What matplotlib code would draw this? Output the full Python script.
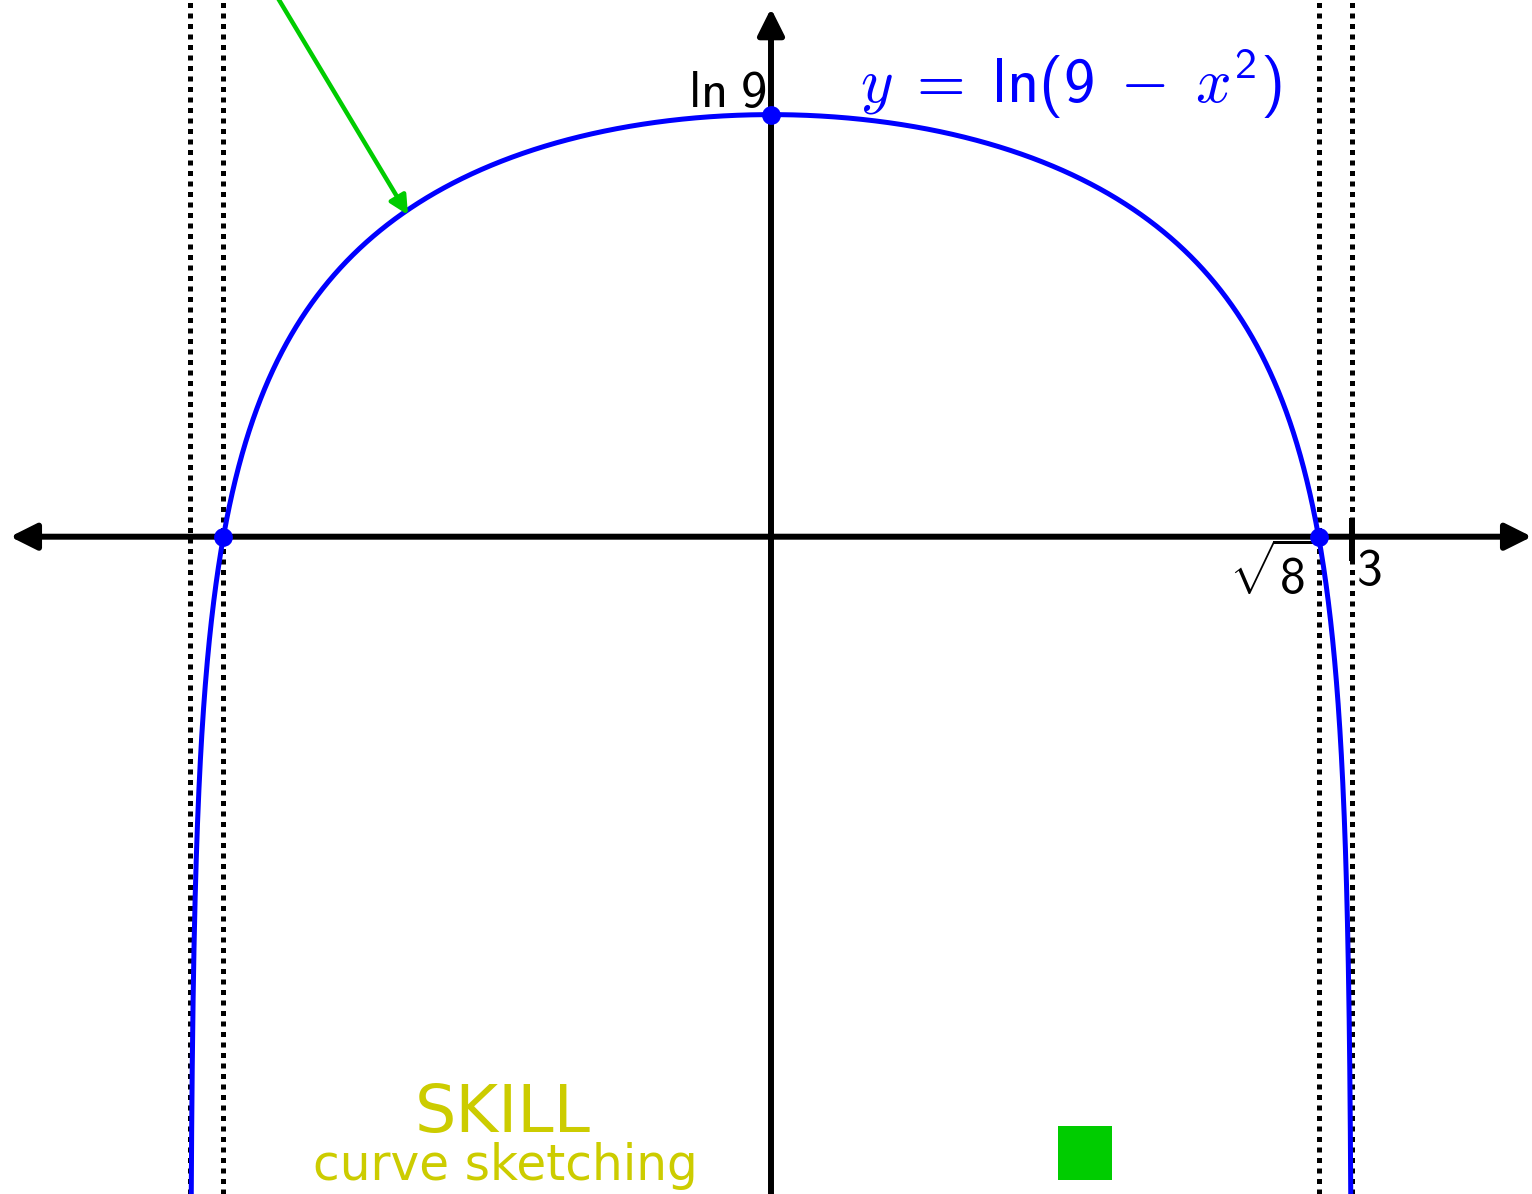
import numpy as np
import matplotlib.pyplot as plt
from matplotlib.patches import Rectangle

plt.rcParams["mathtext.fontset"] = "custom"
plt.rcParams["mathtext.rm"] = "cmss10"
plt.rcParams["mathtext.sf"] = "cmss10"
plt.rcParams["mathtext.it"] = "cmmi10"
plt.rcParams["mathtext.fallback"] = "cm"

# the function drawn and its key points
asymptotes = [-3.0, 3.0]
roots = [-np.sqrt(8), np.sqrt(8)]
y_int = np.log(9)
eq_label = r"$y\;=\;\mathrm{ln}(9\;-\;x^{2})$"
root_label = r"$\sqrt{8}$"
asym_label = r"$3$"
yint_label = r"$\mathrm{ln}\;9$"

x = np.linspace(-2.99995, 2.99995, 4000)
y = np.log(9 - x**2)

fig = plt.figure(figsize=(15.32, 11.94), dpi=100)
ax = fig.add_axes([0, 0, 1, 1])
ax.set_xlim(-771 / 193.6, (1532 - 771) / 193.6)
ax.set_ylim(-(1194 - 536.7) / 192.1, 536.7 / 192.1)
ax.axis("off")

# asymptotes and roots: dotted verticals
for xv in asymptotes + roots:
    ax.axvline(xv, color="black", lw=3.6, linestyle=(0, (1, 1.1)), zorder=1)

# axes with arrows
ax.annotate("", xy=(3.93, 0), xytext=(-3.93, 0),
            arrowprops=dict(arrowstyle="<|-|>", lw=4.3, color="black",
                            mutation_scale=40, shrinkA=0, shrinkB=0), zorder=2)
ax.annotate("", xy=(0, 2.75), xytext=(0, -3.5),
            arrowprops=dict(arrowstyle="-|>", lw=4.3, color="black",
                            mutation_scale=40, shrinkA=0, shrinkB=0), zorder=2)

# small ticks
ax.plot([3, 3], [-0.11, 0.08], color="black", lw=4.3, zorder=2)
ax.plot([-0.1, 0.1], [y_int, y_int], color="black", lw=1.5, zorder=2)

# the curve
ax.plot(x, y, color="#0000ff", lw=3.6, zorder=3)
ax.plot(roots + [0], [0, 0, y_int], "o", color="#0000ff", ms=12.5, zorder=4)

# labels
ax.text(-0.02, 2.235, yint_label, fontsize=38, ha="right", va="baseline")
ax.text(0.46, 2.26, eq_label, fontsize=45, color="#0000ff", ha="left", va="baseline")
ax.text(2.80, -0.04, root_label, fontsize=37, ha="right", va="top")
ax.text(3.02, -0.05, asym_label, fontsize=37, ha="left", va="top")

# green pointer arrow
ax.annotate("", xy=(-1.875, 1.675), xytext=(-2.572, 2.846),
            arrowprops=dict(arrowstyle="-|>", lw=3.2, color="#00cc00",
                            mutation_scale=28, shrinkA=0, shrinkB=0),
            annotation_clip=False)

# green square
ax.add_patch(Rectangle((1.482, -3.349), 0.279, 0.281, color="#00cc00", lw=0))

ax.text(0.328, 0.052, "SKILL", transform=ax.transAxes, fontsize=47,
        color="#cccc00", ha="center", va="baseline")
ax.text(0.330, 0.0117, "curve sketching", transform=ax.transAxes, fontsize=35,
        color="#cccc00", ha="center", va="baseline")

fig.savefig("out.png", dpi=100)
